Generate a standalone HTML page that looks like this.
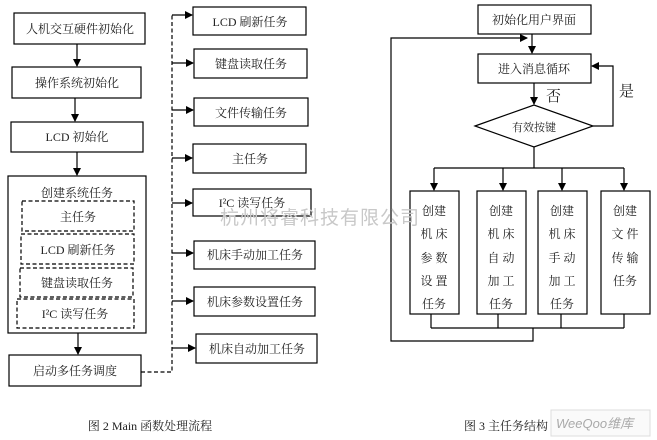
<!DOCTYPE html>
<html><head><meta charset="utf-8"><style>
html,body{margin:0;padding:0;background:#fff;}
svg{display:block;}
text{font-family:"Liberation Serif","Noto Serif CJK SC","Noto Sans CJK SC",serif;font-size:12px;fill:#222;}
</style></head><body>
<svg width="657" height="440" viewBox="0 0 657 440" xmlns="http://www.w3.org/2000/svg">
<defs>
<marker id="a" markerWidth="8" markerHeight="8" refX="7" refY="4" orient="auto" markerUnits="userSpaceOnUse">
<path d="M0,0 L8,4 L0,8 z" fill="#000"/></marker>
</defs>
<g fill="none" stroke="#000" stroke-width="1.2">
<!-- left column -->
<rect x="14" y="13" width="131" height="31"/>
<rect x="12" y="67" width="129" height="31"/>
<rect x="11" y="122" width="132" height="30"/>
<rect x="8" y="176" width="138" height="157"/>
<rect x="9" y="355" width="132" height="31"/>
<g stroke-dasharray="4,2.5">
<rect x="22" y="201" width="112" height="30"/>
<rect x="21" y="234" width="113" height="30"/>
<rect x="20" y="268" width="113" height="29"/>
<rect x="17" y="299" width="117" height="29"/>
<path d="M141,372 H172 V14"/>
</g>
<path d="M77,44 V66" marker-end="url(#a)"/>
<path d="M75,98 V121" marker-end="url(#a)"/>
<path d="M77,152 V175" marker-end="url(#a)"/>
<path d="M78,333 V354" marker-end="url(#a)"/>
<!-- right tasks -->
<rect x="193" y="7" width="113" height="28"/>
<rect x="194" y="49" width="113" height="29"/>
<rect x="194" y="98" width="114" height="28"/>
<rect x="193" y="144" width="113" height="29"/>
<rect x="193" y="189" width="118" height="27"/>
<rect x="194" y="241" width="121" height="28"/>
<rect x="194" y="287" width="121" height="29"/>
<rect x="196" y="334" width="121" height="29"/>
<path d="M172,15 H192" marker-end="url(#a)"/>
<path d="M172,63 H193" marker-end="url(#a)"/>
<path d="M172,110 H193" marker-end="url(#a)"/>
<path d="M172,158 H192" marker-end="url(#a)"/>
<path d="M172,203 H192" marker-end="url(#a)"/>
<path d="M172,253 H193" marker-end="url(#a)"/>
<path d="M172,301 H193" marker-end="url(#a)"/>
<path d="M172,348 H195" marker-end="url(#a)"/>
<!-- right diagram -->
<rect x="478" y="5" width="113" height="29"/>
<rect x="478" y="54" width="113" height="29"/>
<path d="M532,34 V53" marker-end="url(#a)"/>
<path d="M534,83 V104" marker-end="url(#a)"/>
<path d="M475,126 L534,105 L593,126 L534,147 Z"/>
<path d="M593,126 H613 V66 H592" marker-end="url(#a)"/>
<path d="M534,147 V168 M434,168 H624"/>
<path d="M434,168 V190" marker-end="url(#a)"/>
<path d="M503,168 V190" marker-end="url(#a)"/>
<path d="M562,168 V190" marker-end="url(#a)"/>
<path d="M624,168 V190" marker-end="url(#a)"/>
<rect x="410" y="191" width="49" height="123"/>
<rect x="477" y="191" width="49" height="123"/>
<rect x="538" y="191" width="49" height="123"/>
<rect x="601" y="191" width="49" height="123"/>
<path d="M431,314 V328 M498,314 V328 M561,314 V328 M624,314 V328 M431,328 H624"/>
<path d="M533,328 V341 H391 V38 H527" marker-end="url(#a)"/>
</g>
<!-- watermark -->
<text x="220" y="224" style="font-size:19px;fill:#c8c8c8;font-family:'Noto Sans CJK SC',sans-serif;letter-spacing:1px">杭州将睿科技有限公司</text>
<g text-anchor="middle">
<text x="80" y="33">人机交互硬件初始化</text>
<text x="77" y="87">操作系统初始化</text>
<text x="77" y="141">LCD 初始化</text>
<text x="77" y="197">创建系统任务</text>
<text x="78" y="221">主任务</text>
<text x="78" y="254">LCD 刷新任务</text>
<text x="77" y="287">键盘读取任务</text>
<text x="75" y="318">I²C 读写任务</text>
<text x="75" y="375">启动多任务调度</text>
<text x="250" y="26">LCD 刷新任务</text>
<text x="251" y="68">键盘读取任务</text>
<text x="251" y="117">文件传输任务</text>
<text x="250" y="163">主任务</text>
<text x="252" y="207">I²C 读写任务</text>
<text x="255" y="259">机床手动加工任务</text>
<text x="255" y="306">机床参数设置任务</text>
<text x="257" y="353">机床自动加工任务</text>
<text x="150" y="430">图 2 Main  函数处理流程</text>
<text x="534" y="24">初始化用户界面</text>
<text x="534" y="73">进入消息循环</text>
<text x="534" y="131" style="font-size:11px">有效按键</text>
<text x="506" y="430">图 3 主任务结构</text>
</g>
<text x="546" y="101" style="font-size:15px">否</text>
<text x="619" y="96" style="font-size:15px">是</text>
<g text-anchor="middle">
<g transform="translate(434,0)"><text y="215">创建</text><text y="238">机 床</text><text y="262">参 数</text><text y="285">设 置</text><text y="308">任务</text></g>
<g transform="translate(501,0)"><text y="215">创建</text><text y="238">机 床</text><text y="262">自 动</text><text y="285">加 工</text><text y="308">任务</text></g>
<g transform="translate(562,0)"><text y="215">创建</text><text y="238">机 床</text><text y="262">手 动</text><text y="285">加 工</text><text y="308">任务</text></g>
<g transform="translate(625,0)"><text y="215">创建</text><text y="238">文 件</text><text y="262">传 输</text><text y="285">任务</text></g>
</g>
<rect x="551" y="410" width="99" height="26" fill="#fafafa" stroke="#ddd"/>
<text x="556" y="428" style="font-size:13px;fill:#aaa;font-style:italic;font-family:'Liberation Sans','Noto Sans CJK SC',sans-serif">WeeQoo维库</text>
</svg>
</body></html>
